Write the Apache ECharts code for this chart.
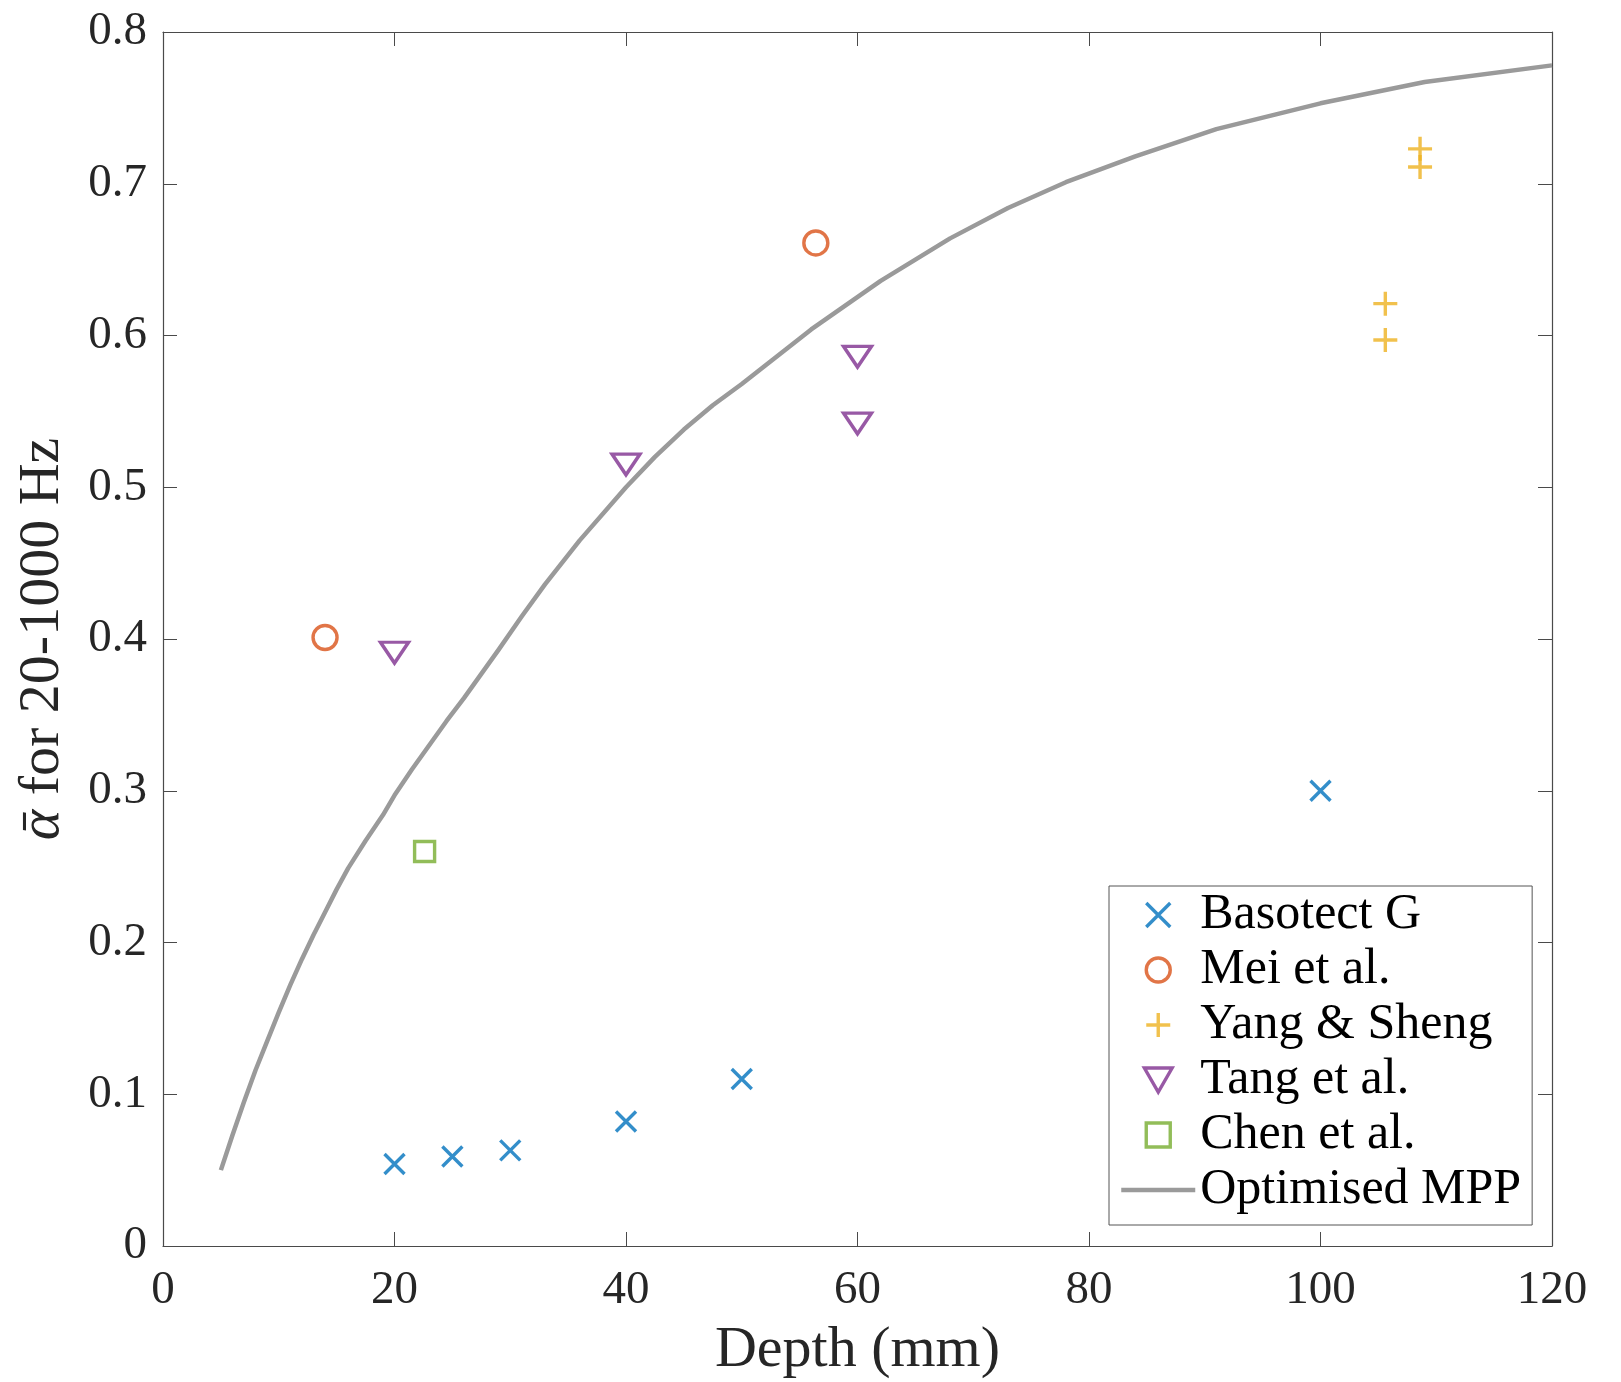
<!DOCTYPE html>
<html>
<head>
<meta charset="utf-8">
<script src="https://cdn.jsdelivr.net/npm/echarts@6/dist/echarts.min.js"></script>
<style>
html,body{margin:0;padding:0;background:#fff;}
#chart{width:1621px;height:1382px;}
</style>
</head>
<body>
<div id="chart"></div>
<script>
// ---- data ----
const basotectX = [20, 25, 30, 40, 50, 100];
const basotectY = [0.054, 0.059, 0.063, 0.082, 0.110, 0.300];

const meiX = [14, 56.4];
const meiY = [0.401, 0.661];

const yangX = [108.6, 108.6, 105.6, 105.6];
const yangY = [0.723, 0.711, 0.621, 0.597];

const tangX = [20, 40, 60, 60];
const tangY = [0.391, 0.515, 0.586, 0.542];

const chenX = [22.6];
const chenY = [0.260];

const mppX = [5, 6, 7, 8, 9, 10, 11, 12, 13, 14, 15, 16, 17.5, 19, 20, 21.5, 23, 24.5, 26, 27.5, 29, 31, 33, 36, 40, 42.5, 45, 47.5, 50, 56, 62, 68, 73, 78, 84, 91, 100, 109, 120];
const mppY = [0.050, 0.073, 0.095, 0.116, 0.135, 0.154, 0.172, 0.189, 0.205, 0.220, 0.235, 0.249, 0.267, 0.284, 0.297, 0.314, 0.330, 0.346, 0.361, 0.377, 0.393, 0.415, 0.436, 0.465, 0.500, 0.520, 0.538, 0.554, 0.568, 0.604, 0.636, 0.664, 0.684, 0.701, 0.718, 0.736, 0.753, 0.767, 0.778];

const seriesNames = ['Basotect G', 'Mei et al.', 'Yang & Sheng', 'Tang et al.', 'Chen et al.', 'Optimised MPP'];
const xTicks = [0, 20, 40, 60, 80, 100, 120];
const yTicks = [0, 0.1, 0.2, 0.3, 0.4, 0.5, 0.6, 0.7, 0.8];

// ---- helpers ----
function pairs(xs, ys) { return xs.map((x, i) => [x, ys[i]]); }

const FONT = '"Liberation Serif", "DejaVu Serif", serif';
const AXIS_COLOR = '#4a4a4a';
const TEXT_COLOR = '#262626';

const SYM_X = 'path://M0,0L10,10M10,0L0,10';
const SYM_O = 'path://M10,0A10,10,0,1,1,9.99,0Z';
const SYM_PLUS = 'path://M5,0L5,10M0,5L10,5';
const SYM_TRI = 'path://M0,0L20,0L10,17.3Z';
const SYM_SQ = 'path://M0,0L10,0L10,10L0,10Z';

function scatter(name, xs, ys, symbol, size, color) {
  return {
    name: name,
    type: 'scatter',
    data: pairs(xs, ys),
    symbol: symbol,
    symbolSize: size,
    symbolKeepAspect: true,
    itemStyle: { color: 'none', borderColor: color, borderWidth: 3.4 },
    emphasis: { disabled: true },
    z: 3
  };
}

const xMin = xTicks[0], xMax = xTicks[xTicks.length - 1], xInt = xTicks[1] - xTicks[0];
const yMin = yTicks[0], yMax = yTicks[yTicks.length - 1], yInt = 0.1;

const tickStyle = { show: true, inside: true, length: 14, lineStyle: { color: AXIS_COLOR, width: 1 } };
const lineStyleAxis = { show: true, onZero: false, lineStyle: { color: AXIS_COLOR, width: 1.2 } };

const option = {
  animation: false,
  backgroundColor: '#ffffff',
  grid: { left: 163, right: 69, top: 32, bottom: 136, containLabel: false, outerBoundsMode: 'none' },
  xAxis: [
    {
      type: 'value', min: xMin, max: xMax, interval: xInt, position: 'bottom',
      name: 'Depth (mm)', nameLocation: 'middle', nameGap: 76,
      nameTextStyle: { fontFamily: FONT, fontSize: 58, color: TEXT_COLOR },
      axisLine: lineStyleAxis, axisTick: tickStyle, splitLine: { show: false },
      axisLabel: { fontFamily: FONT, fontSize: 47, color: TEXT_COLOR, margin: 21 }
    },
    {
      type: 'value', min: xMin, max: xMax, interval: xInt, position: 'top',
      axisLine: lineStyleAxis, axisTick: tickStyle, splitLine: { show: false },
      axisLabel: { show: false }
    }
  ],
  yAxis: [
    {
      type: 'value', min: yMin, max: yMax, interval: yInt, position: 'left',
      name: '{a|\u1FB1} for 20-1000 Hz', nameLocation: 'middle', nameGap: 91, nameRotate: 90,
      nameTextStyle: { fontFamily: FONT, fontSize: 58, color: TEXT_COLOR,
        rich: { a: { fontFamily: FONT, fontSize: 58, fontStyle: 'italic', color: TEXT_COLOR } } },
      axisLine: lineStyleAxis, axisTick: tickStyle, splitLine: { show: false },
      axisLabel: { fontFamily: FONT, fontSize: 47, color: TEXT_COLOR, margin: 16,
        formatter: v => (Math.abs(v) < 1e-9 ? '0' : v.toFixed(1)) }
    },
    {
      type: 'value', min: yMin, max: yMax, interval: yInt, position: 'right',
      axisLine: lineStyleAxis, axisTick: tickStyle, splitLine: { show: false },
      axisLabel: { show: false }
    }
  ],
  legend: {
    orient: 'vertical',
    left: 1109, top: 886,
    padding: [4, 11, 10, 10],
    itemWidth: 74, itemHeight: 24, itemGap: 5,
    symbolKeepAspect: true,
    backgroundColor: '#ffffff',
    borderColor: '#555555', borderWidth: 1, borderRadius: 0,
    selectedMode: false,
    textStyle: { fontFamily: FONT, fontSize: 50, color: '#000000' },
    itemStyle: { borderWidth: 3.4 },
    lineStyle: { width: 4.5 },
    data: [
      seriesNames[0], seriesNames[1], seriesNames[2], seriesNames[3], seriesNames[4],
      { name: seriesNames[5], itemStyle: { opacity: 0, color: 'none', borderWidth: 0 } }
    ]
  },
  series: [
    scatter(seriesNames[0], basotectX, basotectY, SYM_X, 20, '#0072BD'),
    scatter(seriesNames[1], meiX, meiY, SYM_O, 24, '#D95319'),
    scatter(seriesNames[2], yangX, yangY, SYM_PLUS, 24, '#EDB120'),
    scatter(seriesNames[3], tangX, tangY, SYM_TRI, [28, 24], '#7E2F8E'),
    scatter(seriesNames[4], chenX, chenY, SYM_SQ, 20, '#77AC30'),
    {
      name: seriesNames[5], type: 'line', data: pairs(mppX, mppY),
      showSymbol: false, symbol: 'none', smooth: false,
      lineStyle: { color: '#9a9a9a', width: 4.5, join: 'round' }, itemStyle: { color: '#9a9a9a' },
      emphasis: { disabled: true }, z: 2
    }
  ]
};

const chart = echarts.init(document.getElementById('chart'), null, { renderer: 'canvas' });
chart.setOption(option);
</script>
</body>
</html>
